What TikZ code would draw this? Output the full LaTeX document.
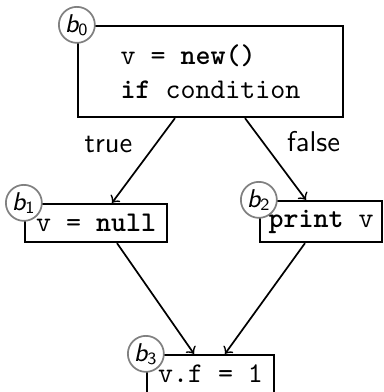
\documentclass[tikz,border=0pt]{standalone}
\usetikzlibrary{calc}
\begin{document}
\begin{tikzpicture}[x=0.35pt,y=-0.35pt,
  blk/.style={draw, thick, font=\ttfamily, inner sep=0pt, anchor=center},
  tag/.style={circle, draw=gray, semithick, fill=white, minimum size=12.6pt, inner sep=0pt, font=\small\sffamily},
  flow/.style={->, semithick},
  lbl/.style={font=\sffamily, anchor=base}]
\useasboundingbox (0,0) rectangle (384,392);
\node[blk, minimum width=92.75pt, minimum height=31.85pt, align=left] (b0) at (210.5,71.5) {v = \textbf{new()}\\\textbf{if} condition};
\node[blk, minimum width=49.7pt, minimum height=13.3pt] (b1) at (96,223) {v = \textbf{null}};
\node[blk, minimum width=42.7pt, minimum height=14.35pt] (b2) at (321,221.5) {\textbf{print} v};
\node[blk, minimum width=44.45pt, minimum height=13.3pt] (b3) at (210.5,374) {v.f = 1};
\draw[flow] ($(b0.south)+(-35.5,0)$) -- ($(b1.north)+(16,0)$);
\draw[flow] ($(b0.south)+(34.5,0)$) -- ($(b2.north)+(-15,0)$);
\draw[flow] ($(b1.south)+(21,0)$) -- ($(b3.north)+(-16.5,0)$);
\draw[flow] ($(b2.south)+(-16,0)$) -- ($(b3.north)+(14.5,0)$);
\node[lbl] (lt) at (108.5,152) {true};
\node[lbl] (lf) at (313.5,151) {false};
\node[tag] (t0) at (b0.north west) {{\itshape b}\textsubscript{0}};
\node[tag] (t1) at (b1.north west) {{\itshape b}\textsubscript{1}};
\node[tag] (t2) at (b2.north west) {{\itshape b}\textsubscript{2}};
\node[tag] (t3) at (b3.north west) {{\itshape b}\textsubscript{3}};
\end{tikzpicture}
\end{document}
